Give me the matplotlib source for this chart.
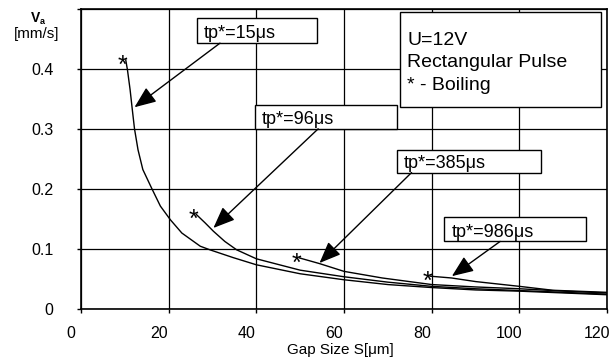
import matplotlib
matplotlib.use("Agg")
from matplotlib import pyplot as plt
from matplotlib.patches import Rectangle
from matplotlib.transforms import ScaledTranslation

plt.rcParams['font.family'] = ['Liberation Sans', 'DejaVu Sans']

# gap size S [um] and velocity Va [mm/s] for each pulse duration
gap_15 = [10.2, 10.6, 11.2, 11.7, 12.2, 13.0, 14.1, 16.1, 18.1, 20.4, 23.0, 27.2, 29.4,
          34.7, 40, 50, 60, 70, 80, 90, 100, 110, 120]
va_15 = [0.415, 0.398, 0.365, 0.332, 0.300, 0.265, 0.232, 0.201, 0.171, 0.148, 0.126, 0.104,
         0.098, 0.085, 0.073, 0.058, 0.048, 0.040, 0.035, 0.031, 0.029, 0.026, 0.023]
gap_96 = [26.3, 28.3, 30.2, 32.8, 35.5, 40, 50, 60, 70, 80, 90, 100, 110, 120]
va_96 = [0.157, 0.143, 0.129, 0.112, 0.098, 0.083, 0.064, 0.053, 0.044, 0.037, 0.033,
         0.030, 0.027, 0.024]
gap_385 = [49.8, 54.4, 60, 68.7, 80, 90, 100, 110, 120]
va_385 = [0.0845, 0.075, 0.062, 0.051, 0.040, 0.036, 0.033, 0.029, 0.026]
gap_986 = [79.6, 84.5, 90, 100, 107.6, 120]
va_986 = [0.054, 0.051, 0.045, 0.037, 0.0305, 0.027]

curvas = [(gap_15, va_15), (gap_96, va_96), (gap_385, va_385), (gap_986, va_986)]
rotulos = ['tp*=15μs', 'tp*=96μs', 'tp*=385μs', 'tp*=986μs']

# label boxes (x0, x1, y0, y1), arrow start and arrow tip, in data units
caixas = [(26.5, 53.9, 0.443, 0.485), (39.6, 72.0, 0.300, 0.340),
          (72.0, 104.9, 0.227, 0.265), (82.9, 115.3, 0.112, 0.153)]
setas_ini = [(31.7, 0.443), (54.1, 0.300), (75.4, 0.227), (95.6, 0.112)]
setas_fim = [(12.2, 0.336), (30.2, 0.1345), (54.4, 0.076), (84.6, 0.054)]

legenda = ['U=12V', 'Rectangular Pulse', '* - Boiling']

fig = plt.figure(figsize=(6.11, 3.6), dpi=100)
ax = fig.add_axes([0.1326, 0.143, 0.861, 0.832])

for x, y in curvas:
    ax.plot(x, y, color='black', linewidth=1.0, zorder=3)
    ax.annotate('*', xy=(x[0], y[0]), xytext=(-2.0, -4.0), textcoords='offset points',
                ha='center', va='center', fontsize=18, zorder=4)

for (x0, x1, y0, y1), txt in zip(caixas, rotulos):
    ax.add_patch(Rectangle((x0, y0), x1 - x0, y1 - y0, facecolor='white',
                           edgecolor='black', linewidth=1.0, zorder=5))
    ax.text(x0 + 1.6, y0 + 0.008, txt, fontsize=13, va='baseline', ha='left', zorder=6)

for ini, fim in zip(setas_ini, setas_fim):
    ax.annotate('', xy=fim, xytext=ini,
                arrowprops=dict(arrowstyle='-|>,head_length=1.1,head_width=0.45',
                                color='black', lw=1.0, mutation_scale=12,
                                shrinkA=0, shrinkB=0), zorder=6)

ax.add_patch(Rectangle((72.7, 0.337), 46.0, 0.158, facecolor='white',
                       edgecolor='black', linewidth=1.0, zorder=5))
for i, linha in enumerate(legenda):
    ax.text(74.4, 0.44 - i * 0.0375, linha, fontsize=14, va='baseline', ha='left', zorder=6)

ax.set_xlim(0, 120)
ax.set_ylim(0, 0.5)
ax.set_xticks(range(0, 121, 20))
ax.set_yticks([0, 0.1, 0.2, 0.3, 0.4, 0.5])
ax.set_yticklabels(['0', '0.1', '0.2', '0.3', '0.4', ''])
ax.grid(True, color='black', linewidth=0.9)
ax.set_axisbelow(True)
for s in ax.spines.values():
    s.set_linewidth(1.2)
ax.tick_params(axis='both', direction='out', length=3, width=1, labelsize=11.5)
ax.tick_params(axis='y', pad=16.8)
ax.tick_params(axis='x', pad=9.6)

desloc = ScaledTranslation(-0.10, 0, fig.dpi_scale_trans)
for lbl in ax.get_xticklabels():
    lbl.set_transform(lbl.get_transform() + desloc)

fig.text(340 / 611, 1 - 350 / 360, 'Gap Size S[μm]', fontsize=11, ha='center', va='center')
fig.text(36 / 611, 1 - 17.5 / 360, 'V', fontsize=10, fontweight='bold', ha='center', va='center')
fig.text(42.5 / 611, 1 - 21 / 360, 'a', fontsize=6.5, fontweight='bold', ha='center', va='center')
fig.text(36.5 / 611, 1 - 34 / 360, '[mm/s]', fontsize=11, ha='center', va='center')

fig.savefig('out.png', dpi=100)
